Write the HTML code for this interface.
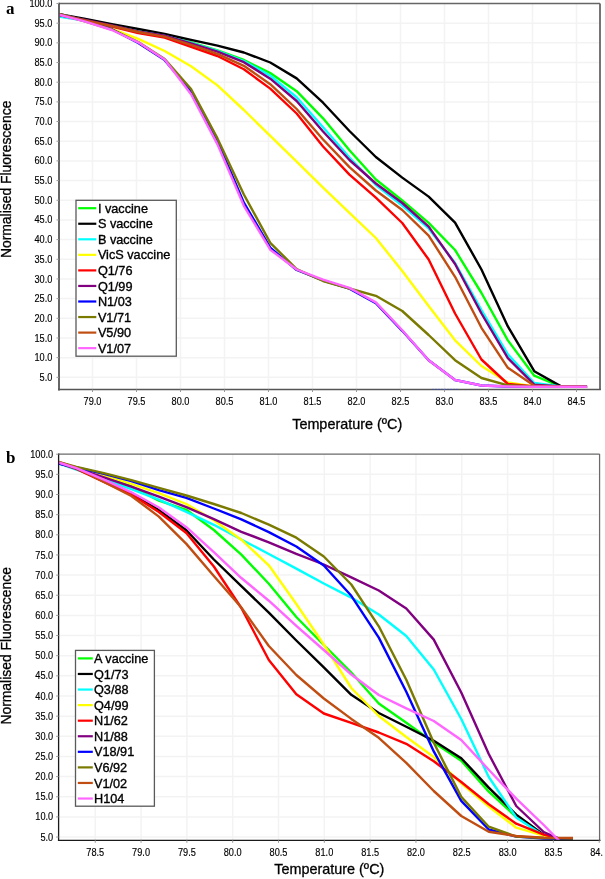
<!DOCTYPE html>
<html><head><meta charset="utf-8"><style>
html,body{margin:0;padding:0;background:#fff;}
svg{display:block;will-change:transform;}
text{font-family:"Liberation Sans", sans-serif;}
.tl{font-size:10px;fill:#000;stroke:#000;stroke-width:0.15px;}
.lg{font-size:12.7px;fill:#000;stroke:#000;stroke-width:0.35px;}
.g{stroke:#f3f3f3;stroke-width:1.5;}
.ax{font-size:14.4px;fill:#000;stroke:#000;stroke-width:0.3px;}
.ay{font-size:13.9px;fill:#000;stroke:#000;stroke-width:0.3px;}
.pl{font-family:"Liberation Serif",serif;font-weight:bold;font-size:17px;fill:#000;}
</style></head><body>
<svg width="605" height="879" viewBox="0 0 605 879">
<defs><clipPath id="xclip"><rect x="0" y="0" width="602.6" height="879"/></clipPath></defs><g clip-path="url(#xclip)">
<line x1="59.0" y1="377.32" x2="600.0" y2="377.32" class="g"/>
<line x1="59.0" y1="357.65" x2="600.0" y2="357.65" class="g"/>
<line x1="59.0" y1="337.98" x2="600.0" y2="337.98" class="g"/>
<line x1="59.0" y1="318.30" x2="600.0" y2="318.30" class="g"/>
<line x1="59.0" y1="298.62" x2="600.0" y2="298.62" class="g"/>
<line x1="59.0" y1="278.95" x2="600.0" y2="278.95" class="g"/>
<line x1="59.0" y1="259.27" x2="600.0" y2="259.27" class="g"/>
<line x1="59.0" y1="239.60" x2="600.0" y2="239.60" class="g"/>
<line x1="59.0" y1="219.93" x2="600.0" y2="219.93" class="g"/>
<line x1="59.0" y1="200.25" x2="600.0" y2="200.25" class="g"/>
<line x1="59.0" y1="180.57" x2="600.0" y2="180.57" class="g"/>
<line x1="59.0" y1="160.90" x2="600.0" y2="160.90" class="g"/>
<line x1="59.0" y1="141.22" x2="600.0" y2="141.22" class="g"/>
<line x1="59.0" y1="121.55" x2="600.0" y2="121.55" class="g"/>
<line x1="59.0" y1="101.88" x2="600.0" y2="101.88" class="g"/>
<line x1="59.0" y1="82.20" x2="600.0" y2="82.20" class="g"/>
<line x1="59.0" y1="62.52" x2="600.0" y2="62.52" class="g"/>
<line x1="59.0" y1="42.85" x2="600.0" y2="42.85" class="g"/>
<line x1="59.0" y1="23.18" x2="600.0" y2="23.18" class="g"/>
<line x1="92.50" y1="3.5" x2="92.50" y2="389.5" class="g"/>
<line x1="136.50" y1="3.5" x2="136.50" y2="389.5" class="g"/>
<line x1="180.50" y1="3.5" x2="180.50" y2="389.5" class="g"/>
<line x1="224.50" y1="3.5" x2="224.50" y2="389.5" class="g"/>
<line x1="268.50" y1="3.5" x2="268.50" y2="389.5" class="g"/>
<line x1="312.50" y1="3.5" x2="312.50" y2="389.5" class="g"/>
<line x1="356.50" y1="3.5" x2="356.50" y2="389.5" class="g"/>
<line x1="400.50" y1="3.5" x2="400.50" y2="389.5" class="g"/>
<line x1="444.50" y1="3.5" x2="444.50" y2="389.5" class="g"/>
<line x1="488.50" y1="3.5" x2="488.50" y2="389.5" class="g"/>
<line x1="532.50" y1="3.5" x2="532.50" y2="389.5" class="g"/>
<line x1="576.50" y1="3.5" x2="576.50" y2="389.5" class="g"/>
<clipPath id="ca"><rect x="59.0" y="3.5" width="541.0" height="386.0"/></clipPath>
<g clip-path="url(#ca)" fill="none" stroke-width="2.4" stroke-linejoin="round">
<polyline stroke="#00ff00" points="59.06,15.50 85.46,20.50 111.86,25.50 138.26,31.00 164.66,35.50 191.06,42.30 217.46,50.30 243.86,60.00 270.26,73.00 296.66,91.20 323.06,118.30 349.46,150.20 375.86,179.50 402.26,200.50 428.66,222.80 455.06,250.00 481.46,293.00 507.86,340.40 534.26,375.70 560.66,386.50 587.06,386.80"/>
<polyline stroke="#000000" points="59.06,14.30 85.46,19.00 111.86,24.20 138.26,29.00 164.66,34.00 191.06,39.80 217.46,45.60 243.86,52.50 270.26,62.50 296.66,78.40 323.06,102.70 349.46,131.00 375.86,157.00 402.26,177.60 428.66,196.60 455.06,222.60 481.46,269.50 507.86,326.40 534.26,371.20 560.66,386.10 587.06,386.80"/>
<polyline stroke="#00ffff" points="59.06,16.60 85.46,20.80 111.86,26.00 138.26,31.50 164.66,36.00 191.06,43.00 217.46,50.80 243.86,61.00 270.26,75.80 296.66,97.20 323.06,127.30 349.46,157.50 375.86,185.00 402.26,205.50 428.66,228.40 455.06,263.00 481.46,310.00 507.86,354.40 534.26,383.00 560.66,386.50 587.06,386.80"/>
<polyline stroke="#ffff00" points="59.06,14.00 85.46,21.00 111.86,28.80 138.26,38.80 164.66,51.00 191.06,66.20 217.46,85.40 243.86,110.00 270.26,135.90 296.66,161.70 323.06,187.60 349.46,212.80 375.86,238.00 402.26,271.00 428.66,306.00 455.06,340.30 481.46,366.00 507.86,382.50 534.26,386.50 560.66,386.80 587.06,386.80"/>
<polyline stroke="#ff0000" points="59.06,15.00 85.46,20.50 111.86,26.50 138.26,33.00 164.66,37.60 191.06,46.80 217.46,56.00 243.86,69.20 270.26,88.60 296.66,113.50 323.06,146.50 349.46,174.60 375.86,197.70 402.26,223.00 428.66,259.50 455.06,313.50 481.46,359.50 507.86,384.00 534.26,386.50 560.66,386.80 587.06,386.80"/>
<polyline stroke="#800080" points="59.06,15.00 85.46,20.00 111.86,25.50 138.26,31.50 164.66,35.60 191.06,43.30 217.46,51.60 243.86,62.20 270.26,78.70 296.66,101.00 323.06,131.50 349.46,160.00 375.86,183.50 402.26,203.00 428.66,226.60 455.06,264.00 481.46,313.50 507.86,358.20 534.26,384.70 560.66,386.50 587.06,386.80"/>
<polyline stroke="#0000ff" points="59.06,13.90 85.46,20.80 111.86,29.20 138.26,42.90 164.66,60.10 191.06,91.30 217.46,140.90 243.86,202.60 270.26,247.70 296.66,270.00 323.06,280.50 349.46,288.70 375.86,303.20 402.26,330.80 428.66,360.20 455.06,380.00 481.46,385.50 507.86,386.50 534.26,386.80 560.66,386.80 587.06,386.80"/>
<polyline stroke="#7a7a00" points="59.06,14.00 85.46,21.50 111.86,29.50 138.26,42.00 164.66,59.00 191.06,89.00 217.46,138.40 243.86,194.50 270.26,242.80 296.66,269.10 323.06,281.00 349.46,288.50 375.86,295.80 402.26,311.00 428.66,335.00 455.06,360.20 481.46,378.00 507.86,385.30 534.26,386.50 560.66,386.80 587.06,386.80"/>
<polyline stroke="#c04e12" points="59.06,14.50 85.46,20.50 111.86,26.00 138.26,32.00 164.66,36.60 191.06,44.80 217.46,53.80 243.86,65.80 270.26,84.20 296.66,109.00 323.06,139.50 349.46,167.20 375.86,190.50 402.26,210.00 428.66,235.70 455.06,276.80 481.46,327.80 507.86,367.80 534.26,385.70 560.66,386.50 587.06,386.80"/>
<polyline stroke="#ff66ff" points="59.06,14.70 85.46,21.60 111.86,30.00 138.26,42.30 164.66,59.50 191.06,94.30 217.46,144.40 243.86,205.80 270.26,249.70 296.66,269.50 323.06,279.70 349.46,287.90 375.86,302.40 402.26,330.30 428.66,360.20 455.06,380.00 481.46,385.50 507.86,386.50 534.26,386.80 560.66,386.80 587.06,386.80"/>
</g>
<line x1="59.0" y1="3.5" x2="600.0" y2="3.5" stroke="#666" stroke-width="1.4"/>
<line x1="600.0" y1="3.5" x2="600.0" y2="389.5" stroke="#666" stroke-width="1.8"/>
<line x1="59.0" y1="2.8" x2="59.0" y2="390.4" stroke="#555" stroke-width="1.8"/>
<line x1="58.1" y1="389.5" x2="600.9" y2="389.5" stroke="#555" stroke-width="1.6"/>
<line x1="56.5" y1="377.32" x2="59.0" y2="377.32" stroke="#999" stroke-width="1"/>
<text transform="translate(52.4,380.88) scale(0.92,1)" class="tl" text-anchor="end">5.0</text>
<line x1="56.5" y1="357.65" x2="59.0" y2="357.65" stroke="#999" stroke-width="1"/>
<text transform="translate(52.4,361.20) scale(0.92,1)" class="tl" text-anchor="end">10.0</text>
<line x1="56.5" y1="337.98" x2="59.0" y2="337.98" stroke="#999" stroke-width="1"/>
<text transform="translate(52.4,341.53) scale(0.92,1)" class="tl" text-anchor="end">15.0</text>
<line x1="56.5" y1="318.30" x2="59.0" y2="318.30" stroke="#999" stroke-width="1"/>
<text transform="translate(52.4,321.85) scale(0.92,1)" class="tl" text-anchor="end">20.0</text>
<line x1="56.5" y1="298.62" x2="59.0" y2="298.62" stroke="#999" stroke-width="1"/>
<text transform="translate(52.4,302.18) scale(0.92,1)" class="tl" text-anchor="end">25.0</text>
<line x1="56.5" y1="278.95" x2="59.0" y2="278.95" stroke="#999" stroke-width="1"/>
<text transform="translate(52.4,282.50) scale(0.92,1)" class="tl" text-anchor="end">30.0</text>
<line x1="56.5" y1="259.27" x2="59.0" y2="259.27" stroke="#999" stroke-width="1"/>
<text transform="translate(52.4,262.82) scale(0.92,1)" class="tl" text-anchor="end">35.0</text>
<line x1="56.5" y1="239.60" x2="59.0" y2="239.60" stroke="#999" stroke-width="1"/>
<text transform="translate(52.4,243.15) scale(0.92,1)" class="tl" text-anchor="end">40.0</text>
<line x1="56.5" y1="219.93" x2="59.0" y2="219.93" stroke="#999" stroke-width="1"/>
<text transform="translate(52.4,223.48) scale(0.92,1)" class="tl" text-anchor="end">45.0</text>
<line x1="56.5" y1="200.25" x2="59.0" y2="200.25" stroke="#999" stroke-width="1"/>
<text transform="translate(52.4,203.80) scale(0.92,1)" class="tl" text-anchor="end">50.0</text>
<line x1="56.5" y1="180.57" x2="59.0" y2="180.57" stroke="#999" stroke-width="1"/>
<text transform="translate(52.4,184.12) scale(0.92,1)" class="tl" text-anchor="end">55.0</text>
<line x1="56.5" y1="160.90" x2="59.0" y2="160.90" stroke="#999" stroke-width="1"/>
<text transform="translate(52.4,164.45) scale(0.92,1)" class="tl" text-anchor="end">60.0</text>
<line x1="56.5" y1="141.22" x2="59.0" y2="141.22" stroke="#999" stroke-width="1"/>
<text transform="translate(52.4,144.78) scale(0.92,1)" class="tl" text-anchor="end">65.0</text>
<line x1="56.5" y1="121.55" x2="59.0" y2="121.55" stroke="#999" stroke-width="1"/>
<text transform="translate(52.4,125.10) scale(0.92,1)" class="tl" text-anchor="end">70.0</text>
<line x1="56.5" y1="101.88" x2="59.0" y2="101.88" stroke="#999" stroke-width="1"/>
<text transform="translate(52.4,105.42) scale(0.92,1)" class="tl" text-anchor="end">75.0</text>
<line x1="56.5" y1="82.20" x2="59.0" y2="82.20" stroke="#999" stroke-width="1"/>
<text transform="translate(52.4,85.75) scale(0.92,1)" class="tl" text-anchor="end">80.0</text>
<line x1="56.5" y1="62.52" x2="59.0" y2="62.52" stroke="#999" stroke-width="1"/>
<text transform="translate(52.4,66.08) scale(0.92,1)" class="tl" text-anchor="end">85.0</text>
<line x1="56.5" y1="42.85" x2="59.0" y2="42.85" stroke="#999" stroke-width="1"/>
<text transform="translate(52.4,46.40) scale(0.92,1)" class="tl" text-anchor="end">90.0</text>
<line x1="56.5" y1="23.18" x2="59.0" y2="23.18" stroke="#999" stroke-width="1"/>
<text transform="translate(52.4,26.73) scale(0.92,1)" class="tl" text-anchor="end">95.0</text>
<line x1="56.5" y1="3.50" x2="59.0" y2="3.50" stroke="#999" stroke-width="1"/>
<text transform="translate(52.4,7.05) scale(0.92,1)" class="tl" text-anchor="end">100.0</text>
<line x1="92.50" y1="389.5" x2="92.50" y2="392.0" stroke="#999" stroke-width="1"/>
<text transform="translate(92.50,404.80) scale(0.92,1)" class="tl" text-anchor="middle">79.0</text>
<line x1="136.50" y1="389.5" x2="136.50" y2="392.0" stroke="#999" stroke-width="1"/>
<text transform="translate(136.50,404.80) scale(0.92,1)" class="tl" text-anchor="middle">79.5</text>
<line x1="180.50" y1="389.5" x2="180.50" y2="392.0" stroke="#999" stroke-width="1"/>
<text transform="translate(180.50,404.80) scale(0.92,1)" class="tl" text-anchor="middle">80.0</text>
<line x1="224.50" y1="389.5" x2="224.50" y2="392.0" stroke="#999" stroke-width="1"/>
<text transform="translate(224.50,404.80) scale(0.92,1)" class="tl" text-anchor="middle">80.5</text>
<line x1="268.50" y1="389.5" x2="268.50" y2="392.0" stroke="#999" stroke-width="1"/>
<text transform="translate(268.50,404.80) scale(0.92,1)" class="tl" text-anchor="middle">81.0</text>
<line x1="312.50" y1="389.5" x2="312.50" y2="392.0" stroke="#999" stroke-width="1"/>
<text transform="translate(312.50,404.80) scale(0.92,1)" class="tl" text-anchor="middle">81.5</text>
<line x1="356.50" y1="389.5" x2="356.50" y2="392.0" stroke="#999" stroke-width="1"/>
<text transform="translate(356.50,404.80) scale(0.92,1)" class="tl" text-anchor="middle">82.0</text>
<line x1="400.50" y1="389.5" x2="400.50" y2="392.0" stroke="#999" stroke-width="1"/>
<text transform="translate(400.50,404.80) scale(0.92,1)" class="tl" text-anchor="middle">82.5</text>
<line x1="444.50" y1="389.5" x2="444.50" y2="392.0" stroke="#999" stroke-width="1"/>
<text transform="translate(444.50,404.80) scale(0.92,1)" class="tl" text-anchor="middle">83.0</text>
<line x1="488.50" y1="389.5" x2="488.50" y2="392.0" stroke="#999" stroke-width="1"/>
<text transform="translate(488.50,404.80) scale(0.92,1)" class="tl" text-anchor="middle">83.5</text>
<line x1="532.50" y1="389.5" x2="532.50" y2="392.0" stroke="#999" stroke-width="1"/>
<text transform="translate(532.50,404.80) scale(0.92,1)" class="tl" text-anchor="middle">84.0</text>
<line x1="576.50" y1="389.5" x2="576.50" y2="392.0" stroke="#999" stroke-width="1"/>
<text transform="translate(576.50,404.80) scale(0.92,1)" class="tl" text-anchor="middle">84.5</text>
<rect x="76.0" y="200.3" width="100.3" height="155.9" fill="#fff" stroke="#5a5a5a" stroke-width="1.3"/>
<line x1="78.2" y1="208.20" x2="96.3" y2="208.20" stroke="#00ff00" stroke-width="2.2"/>
<text x="97.9" y="212.80" class="lg">I vaccine</text>
<line x1="78.2" y1="223.75" x2="96.3" y2="223.75" stroke="#000000" stroke-width="2.2"/>
<text x="97.9" y="228.35" class="lg">S vaccine</text>
<line x1="78.2" y1="239.30" x2="96.3" y2="239.30" stroke="#00ffff" stroke-width="2.2"/>
<text x="97.9" y="243.90" class="lg">B vaccine</text>
<line x1="78.2" y1="254.85" x2="96.3" y2="254.85" stroke="#ffff00" stroke-width="2.2"/>
<text x="97.9" y="259.45" class="lg">VicS vaccine</text>
<line x1="78.2" y1="270.40" x2="96.3" y2="270.40" stroke="#ff0000" stroke-width="2.2"/>
<text x="97.9" y="275.00" class="lg">Q1/76</text>
<line x1="78.2" y1="285.95" x2="96.3" y2="285.95" stroke="#800080" stroke-width="2.2"/>
<text x="97.9" y="290.55" class="lg">Q1/99</text>
<line x1="78.2" y1="301.50" x2="96.3" y2="301.50" stroke="#0000ff" stroke-width="2.2"/>
<text x="97.9" y="306.10" class="lg">N1/03</text>
<line x1="78.2" y1="317.05" x2="96.3" y2="317.05" stroke="#7a7a00" stroke-width="2.2"/>
<text x="97.9" y="321.65" class="lg">V1/71</text>
<line x1="78.2" y1="332.60" x2="96.3" y2="332.60" stroke="#c04e12" stroke-width="2.2"/>
<text x="97.9" y="337.20" class="lg">V5/90</text>
<line x1="78.2" y1="348.15" x2="96.3" y2="348.15" stroke="#ff66ff" stroke-width="2.2"/>
<text x="97.9" y="352.75" class="lg">V1/07</text>
<line x1="58.6" y1="837.05" x2="599.6" y2="837.05" class="g"/>
<line x1="58.6" y1="816.90" x2="599.6" y2="816.90" class="g"/>
<line x1="58.6" y1="796.75" x2="599.6" y2="796.75" class="g"/>
<line x1="58.6" y1="776.60" x2="599.6" y2="776.60" class="g"/>
<line x1="58.6" y1="756.45" x2="599.6" y2="756.45" class="g"/>
<line x1="58.6" y1="736.30" x2="599.6" y2="736.30" class="g"/>
<line x1="58.6" y1="716.15" x2="599.6" y2="716.15" class="g"/>
<line x1="58.6" y1="696.00" x2="599.6" y2="696.00" class="g"/>
<line x1="58.6" y1="675.85" x2="599.6" y2="675.85" class="g"/>
<line x1="58.6" y1="655.70" x2="599.6" y2="655.70" class="g"/>
<line x1="58.6" y1="635.55" x2="599.6" y2="635.55" class="g"/>
<line x1="58.6" y1="615.40" x2="599.6" y2="615.40" class="g"/>
<line x1="58.6" y1="595.25" x2="599.6" y2="595.25" class="g"/>
<line x1="58.6" y1="575.10" x2="599.6" y2="575.10" class="g"/>
<line x1="58.6" y1="554.95" x2="599.6" y2="554.95" class="g"/>
<line x1="58.6" y1="534.80" x2="599.6" y2="534.80" class="g"/>
<line x1="58.6" y1="514.65" x2="599.6" y2="514.65" class="g"/>
<line x1="58.6" y1="494.50" x2="599.6" y2="494.50" class="g"/>
<line x1="58.6" y1="474.35" x2="599.6" y2="474.35" class="g"/>
<line x1="95.25" y1="454.1" x2="95.25" y2="840.3" class="g"/>
<line x1="141.06" y1="454.1" x2="141.06" y2="840.3" class="g"/>
<line x1="186.88" y1="454.1" x2="186.88" y2="840.3" class="g"/>
<line x1="232.69" y1="454.1" x2="232.69" y2="840.3" class="g"/>
<line x1="278.51" y1="454.1" x2="278.51" y2="840.3" class="g"/>
<line x1="324.32" y1="454.1" x2="324.32" y2="840.3" class="g"/>
<line x1="370.14" y1="454.1" x2="370.14" y2="840.3" class="g"/>
<line x1="415.95" y1="454.1" x2="415.95" y2="840.3" class="g"/>
<line x1="461.77" y1="454.1" x2="461.77" y2="840.3" class="g"/>
<line x1="507.58" y1="454.1" x2="507.58" y2="840.3" class="g"/>
<line x1="553.40" y1="454.1" x2="553.40" y2="840.3" class="g"/>
<line x1="599.21" y1="454.1" x2="599.21" y2="840.3" class="g"/>
<clipPath id="cb"><rect x="58.6" y="454.1" width="541.0" height="386.19999999999993"/></clipPath>
<g clip-path="url(#cb)" fill="none" stroke-width="2.4" stroke-linejoin="round">
<polyline stroke="#00ff00" points="58.50,463.00 76.40,469.00 103.89,477.50 131.38,486.50 158.87,500.60 186.36,509.80 213.85,530.00 241.34,554.60 268.83,583.80 296.32,617.00 323.81,645.00 351.30,672.50 378.79,703.50 406.28,722.70 433.77,742.50 461.26,760.70 488.75,791.60 516.24,817.00 543.73,835.00 573.00,842.00"/>
<polyline stroke="#000000" points="58.50,462.80 76.40,469.00 103.89,480.50 131.38,493.50 158.87,510.00 186.36,530.30 213.85,559.50 241.34,586.20 268.83,612.60 296.32,640.50 323.81,667.30 351.30,694.80 378.79,713.00 406.28,726.70 433.77,740.70 461.26,758.20 488.75,787.60 516.24,814.70 543.73,834.60 573.00,842.00"/>
<polyline stroke="#00ffff" points="58.50,463.40 76.40,469.50 103.89,479.00 131.38,489.10 158.87,499.70 186.36,511.80 213.85,524.80 241.34,539.50 268.83,554.00 296.32,568.60 323.81,583.50 351.30,597.60 378.79,614.50 406.28,636.00 433.77,669.50 461.26,719.00 488.75,777.00 516.24,817.50 543.73,835.60 573.00,842.00"/>
<polyline stroke="#ffff00" points="58.50,462.30 76.40,467.50 103.89,475.40 131.38,483.90 158.87,493.10 186.36,504.00 213.85,520.30 241.34,539.70 268.83,565.30 296.32,604.00 323.81,644.50 351.30,688.00 378.79,716.00 406.28,737.00 433.77,757.00 461.26,783.30 488.75,806.50 516.24,827.70 543.73,835.60 573.00,842.00"/>
<polyline stroke="#ff0000" points="58.50,462.80 76.40,468.90 103.89,482.00 131.38,494.50 158.87,512.00 186.36,533.00 213.85,566.50 241.34,608.00 268.83,660.00 296.32,694.30 323.81,713.50 351.30,722.90 378.79,732.50 406.28,743.80 433.77,761.20 461.26,782.00 488.75,804.20 516.24,823.70 543.73,834.60 573.00,842.00"/>
<polyline stroke="#800080" points="58.50,462.80 76.40,468.50 103.89,477.30 131.38,486.70 158.87,496.70 186.36,507.10 213.85,519.10 241.34,531.80 268.83,542.30 296.32,553.90 323.81,564.50 351.30,577.30 378.79,590.50 406.28,608.50 433.77,639.60 461.26,692.50 488.75,754.00 516.24,806.00 543.73,832.00 573.00,845.00"/>
<polyline stroke="#0000ff" points="58.50,463.60 76.40,467.50 103.89,473.90 131.38,481.20 158.87,490.10 186.36,497.80 213.85,508.50 241.34,519.40 268.83,532.10 296.32,546.50 323.81,565.50 351.30,595.80 378.79,637.60 406.28,691.80 433.77,751.40 461.26,800.80 488.75,829.50 516.24,836.60 543.73,838.50 573.00,839.00"/>
<polyline stroke="#7a7a00" points="58.50,461.80 76.40,466.80 103.89,473.10 131.38,480.10 158.87,487.90 186.36,495.50 213.85,504.00 241.34,513.00 268.83,524.60 296.32,537.70 323.81,556.50 351.30,584.50 378.79,626.30 406.28,679.80 433.77,742.70 461.26,796.90 488.75,826.70 516.24,836.60 543.73,838.00 573.00,838.50"/>
<polyline stroke="#c04e12" points="58.50,462.00 76.40,468.00 103.89,482.00 131.38,496.00 158.87,516.60 186.36,543.90 213.85,576.00 241.34,607.50 268.83,646.00 296.32,675.00 323.81,698.50 351.30,718.90 378.79,737.80 406.28,762.90 433.77,791.00 461.26,816.00 488.75,831.70 516.24,836.00 543.73,837.60 573.00,838.00"/>
<polyline stroke="#ff66ff" points="58.50,462.50 76.40,468.20 103.89,479.70 131.38,492.30 158.87,507.50 186.36,527.20 213.85,552.20 241.34,578.00 268.83,600.70 296.32,625.80 323.81,650.00 351.30,674.50 378.79,695.00 406.28,708.40 433.77,721.00 461.26,740.00 488.75,769.80 516.24,798.70 543.73,825.00 573.00,855.00"/>
</g>
<line x1="58.6" y1="454.1" x2="599.6" y2="454.1" stroke="#6a6a6a" stroke-width="1.4"/>
<line x1="599.6" y1="454.1" x2="599.6" y2="840.3" stroke="#6a6a6a" stroke-width="1.2"/>
<line x1="58.6" y1="453.40000000000003" x2="58.6" y2="840.9499999999999" stroke="#1a1a1a" stroke-width="1.3"/>
<line x1="57.95" y1="840.3" x2="600.5" y2="840.3" stroke="#1a1a1a" stroke-width="1.3"/>
<line x1="56.1" y1="837.05" x2="58.6" y2="837.05" stroke="#999" stroke-width="1"/>
<text transform="translate(53.2,840.60) scale(0.92,1)" class="tl" text-anchor="end">5.0</text>
<line x1="56.1" y1="816.90" x2="58.6" y2="816.90" stroke="#999" stroke-width="1"/>
<text transform="translate(53.2,820.45) scale(0.92,1)" class="tl" text-anchor="end">10.0</text>
<line x1="56.1" y1="796.75" x2="58.6" y2="796.75" stroke="#999" stroke-width="1"/>
<text transform="translate(53.2,800.30) scale(0.92,1)" class="tl" text-anchor="end">15.0</text>
<line x1="56.1" y1="776.60" x2="58.6" y2="776.60" stroke="#999" stroke-width="1"/>
<text transform="translate(53.2,780.15) scale(0.92,1)" class="tl" text-anchor="end">20.0</text>
<line x1="56.1" y1="756.45" x2="58.6" y2="756.45" stroke="#999" stroke-width="1"/>
<text transform="translate(53.2,760.00) scale(0.92,1)" class="tl" text-anchor="end">25.0</text>
<line x1="56.1" y1="736.30" x2="58.6" y2="736.30" stroke="#999" stroke-width="1"/>
<text transform="translate(53.2,739.85) scale(0.92,1)" class="tl" text-anchor="end">30.0</text>
<line x1="56.1" y1="716.15" x2="58.6" y2="716.15" stroke="#999" stroke-width="1"/>
<text transform="translate(53.2,719.70) scale(0.92,1)" class="tl" text-anchor="end">35.0</text>
<line x1="56.1" y1="696.00" x2="58.6" y2="696.00" stroke="#999" stroke-width="1"/>
<text transform="translate(53.2,699.55) scale(0.92,1)" class="tl" text-anchor="end">40.0</text>
<line x1="56.1" y1="675.85" x2="58.6" y2="675.85" stroke="#999" stroke-width="1"/>
<text transform="translate(53.2,679.40) scale(0.92,1)" class="tl" text-anchor="end">45.0</text>
<line x1="56.1" y1="655.70" x2="58.6" y2="655.70" stroke="#999" stroke-width="1"/>
<text transform="translate(53.2,659.25) scale(0.92,1)" class="tl" text-anchor="end">50.0</text>
<line x1="56.1" y1="635.55" x2="58.6" y2="635.55" stroke="#999" stroke-width="1"/>
<text transform="translate(53.2,639.10) scale(0.92,1)" class="tl" text-anchor="end">55.0</text>
<line x1="56.1" y1="615.40" x2="58.6" y2="615.40" stroke="#999" stroke-width="1"/>
<text transform="translate(53.2,618.95) scale(0.92,1)" class="tl" text-anchor="end">60.0</text>
<line x1="56.1" y1="595.25" x2="58.6" y2="595.25" stroke="#999" stroke-width="1"/>
<text transform="translate(53.2,598.80) scale(0.92,1)" class="tl" text-anchor="end">65.0</text>
<line x1="56.1" y1="575.10" x2="58.6" y2="575.10" stroke="#999" stroke-width="1"/>
<text transform="translate(53.2,578.65) scale(0.92,1)" class="tl" text-anchor="end">70.0</text>
<line x1="56.1" y1="554.95" x2="58.6" y2="554.95" stroke="#999" stroke-width="1"/>
<text transform="translate(53.2,558.50) scale(0.92,1)" class="tl" text-anchor="end">75.0</text>
<line x1="56.1" y1="534.80" x2="58.6" y2="534.80" stroke="#999" stroke-width="1"/>
<text transform="translate(53.2,538.35) scale(0.92,1)" class="tl" text-anchor="end">80.0</text>
<line x1="56.1" y1="514.65" x2="58.6" y2="514.65" stroke="#999" stroke-width="1"/>
<text transform="translate(53.2,518.20) scale(0.92,1)" class="tl" text-anchor="end">85.0</text>
<line x1="56.1" y1="494.50" x2="58.6" y2="494.50" stroke="#999" stroke-width="1"/>
<text transform="translate(53.2,498.05) scale(0.92,1)" class="tl" text-anchor="end">90.0</text>
<line x1="56.1" y1="474.35" x2="58.6" y2="474.35" stroke="#999" stroke-width="1"/>
<text transform="translate(53.2,477.90) scale(0.92,1)" class="tl" text-anchor="end">95.0</text>
<line x1="56.1" y1="454.20" x2="58.6" y2="454.20" stroke="#999" stroke-width="1"/>
<text transform="translate(53.2,457.75) scale(0.92,1)" class="tl" text-anchor="end">100.0</text>
<line x1="95.25" y1="840.3" x2="95.25" y2="842.8" stroke="#999" stroke-width="1"/>
<text transform="translate(95.25,855.60) scale(0.92,1)" class="tl" text-anchor="middle">78.5</text>
<line x1="141.06" y1="840.3" x2="141.06" y2="842.8" stroke="#999" stroke-width="1"/>
<text transform="translate(141.06,855.60) scale(0.92,1)" class="tl" text-anchor="middle">79.0</text>
<line x1="186.88" y1="840.3" x2="186.88" y2="842.8" stroke="#999" stroke-width="1"/>
<text transform="translate(186.88,855.60) scale(0.92,1)" class="tl" text-anchor="middle">79.5</text>
<line x1="232.69" y1="840.3" x2="232.69" y2="842.8" stroke="#999" stroke-width="1"/>
<text transform="translate(232.69,855.60) scale(0.92,1)" class="tl" text-anchor="middle">80.0</text>
<line x1="278.51" y1="840.3" x2="278.51" y2="842.8" stroke="#999" stroke-width="1"/>
<text transform="translate(278.51,855.60) scale(0.92,1)" class="tl" text-anchor="middle">80.5</text>
<line x1="324.32" y1="840.3" x2="324.32" y2="842.8" stroke="#999" stroke-width="1"/>
<text transform="translate(324.32,855.60) scale(0.92,1)" class="tl" text-anchor="middle">81.0</text>
<line x1="370.14" y1="840.3" x2="370.14" y2="842.8" stroke="#999" stroke-width="1"/>
<text transform="translate(370.14,855.60) scale(0.92,1)" class="tl" text-anchor="middle">81.5</text>
<line x1="415.95" y1="840.3" x2="415.95" y2="842.8" stroke="#999" stroke-width="1"/>
<text transform="translate(415.95,855.60) scale(0.92,1)" class="tl" text-anchor="middle">82.0</text>
<line x1="461.77" y1="840.3" x2="461.77" y2="842.8" stroke="#999" stroke-width="1"/>
<text transform="translate(461.77,855.60) scale(0.92,1)" class="tl" text-anchor="middle">82.5</text>
<line x1="507.58" y1="840.3" x2="507.58" y2="842.8" stroke="#999" stroke-width="1"/>
<text transform="translate(507.58,855.60) scale(0.92,1)" class="tl" text-anchor="middle">83.0</text>
<line x1="553.40" y1="840.3" x2="553.40" y2="842.8" stroke="#999" stroke-width="1"/>
<text transform="translate(553.40,855.60) scale(0.92,1)" class="tl" text-anchor="middle">83.5</text>
<line x1="599.21" y1="840.3" x2="599.21" y2="842.8" stroke="#999" stroke-width="1"/>
<text transform="translate(599.21,855.60) scale(0.92,1)" class="tl" text-anchor="middle">84.0</text>
<rect x="75.5" y="650.4" width="78.9" height="155.8" fill="#fff" stroke="#5a5a5a" stroke-width="1.3"/>
<line x1="77.8" y1="658.40" x2="92.8" y2="658.40" stroke="#00ff00" stroke-width="2.2"/>
<text x="94.0" y="663.00" class="lg">A vaccine</text>
<line x1="77.8" y1="673.97" x2="92.8" y2="673.97" stroke="#000000" stroke-width="2.2"/>
<text x="94.0" y="678.57" class="lg">Q1/73</text>
<line x1="77.8" y1="689.54" x2="92.8" y2="689.54" stroke="#00ffff" stroke-width="2.2"/>
<text x="94.0" y="694.14" class="lg">Q3/88</text>
<line x1="77.8" y1="705.11" x2="92.8" y2="705.11" stroke="#ffff00" stroke-width="2.2"/>
<text x="94.0" y="709.71" class="lg">Q4/99</text>
<line x1="77.8" y1="720.68" x2="92.8" y2="720.68" stroke="#ff0000" stroke-width="2.2"/>
<text x="94.0" y="725.28" class="lg">N1/62</text>
<line x1="77.8" y1="736.25" x2="92.8" y2="736.25" stroke="#800080" stroke-width="2.2"/>
<text x="94.0" y="740.85" class="lg">N1/88</text>
<line x1="77.8" y1="751.82" x2="92.8" y2="751.82" stroke="#0000ff" stroke-width="2.2"/>
<text x="94.0" y="756.42" class="lg">V18/91</text>
<line x1="77.8" y1="767.39" x2="92.8" y2="767.39" stroke="#7a7a00" stroke-width="2.2"/>
<text x="94.0" y="771.99" class="lg">V6/92</text>
<line x1="77.8" y1="782.96" x2="92.8" y2="782.96" stroke="#c04e12" stroke-width="2.2"/>
<text x="94.0" y="787.56" class="lg">V1/02</text>
<line x1="77.8" y1="798.53" x2="92.8" y2="798.53" stroke="#ff66ff" stroke-width="2.2"/>
<text x="94.0" y="803.13" class="lg">H104</text>
</g>
<line x1="432" y1="389.3" x2="459" y2="389.3" stroke="#2244ff" stroke-width="1" stroke-dasharray="2 1" opacity="0.4"/>
<text class="pl" x="6" y="13.9">a</text>
<text class="pl" x="6" y="463">b</text>
<text class="ax" x="292.2" y="428.6">Temperature (ºC)</text>
<text class="ax" x="274.3" y="874.3">Temperature (ºC)</text>
<text class="ay" transform="translate(11.4,258.1) rotate(-90)">Normalised Fluorescence</text>
<text class="ay" transform="translate(11.0,724.6) rotate(-90)">Normalised Fluorescence</text>
</svg>
</body></html>
